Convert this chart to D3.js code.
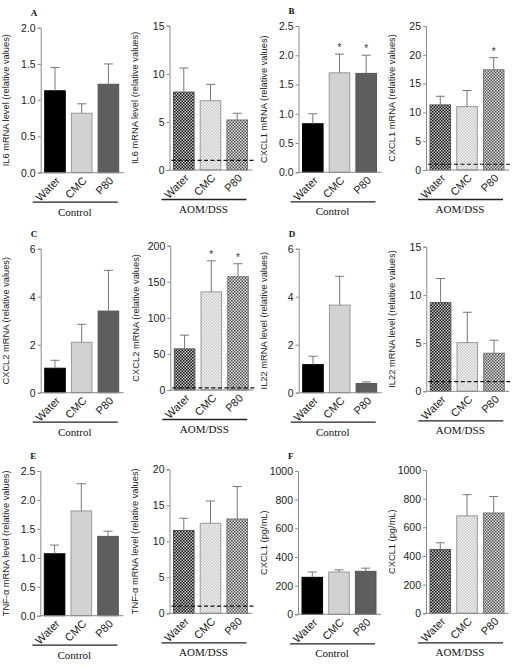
<!DOCTYPE html>
<html><head><meta charset="utf-8">
<script src="https://cdn.jsdelivr.net/npm/d3@7"></script>
<style>body{margin:0;background:#fff}svg{display:block}</style>
</head><body>
<svg id="c" width="517" height="670"></svg>
<script>
// ---- data ----
const groups = ["Water", "CMC", "P80"];

const il6Control = [1.13, 0.82, 1.22];
const il6ControlErr = [1.45, 0.95, 1.50];
const il6Aom = [8.1, 7.2, 5.2];
const il6AomErr = [10.6, 8.9, 5.9];

const cxcl1Control = [0.83, 1.70, 1.69];
const cxcl1ControlErr = [1.00, 2.02, 2.00];
const cxcl1ControlStar = [false, true, true];
const cxcl1Aom = [11.3, 11.0, 17.4];
const cxcl1AomErr = [12.8, 13.8, 19.5];
const cxcl1AomStar = [false, false, true];

const cxcl2Control = [1.02, 2.1, 3.4];
const cxcl2ControlErr = [1.35, 2.85, 5.1];
const cxcl2Aom = [57, 136, 157];
const cxcl2AomErr = [76, 179, 175];
const cxcl2AomStar = [false, true, true];

const il22Control = [1.17, 3.65, 0.38];
const il22ControlErr = [1.52, 4.85, 0.45];
const il22Aom = [9.2, 5.05, 3.95];
const il22AomErr = [11.7, 8.2, 5.3];

const tnfControl = [1.07, 1.81, 1.37];
const tnfControlErr = [1.22, 2.28, 1.46];
const tnfAom = [11.5, 12.5, 13.1];
const tnfAomErr = [13.2, 15.6, 17.6];

const cxcl1ProtControl = [258, 295, 300];
const cxcl1ProtControlErr = [295, 310, 322];
const cxcl1ProtAom = [445, 680, 700];
const cxcl1ProtAomErr = [492, 828, 815];

const ticksA = [0, 0.5, 1.0, 1.5, 2.0];
const ticksA2 = [0, 5, 10, 15];
const ticksB = [0, 0.5, 1.0, 1.5, 2.0, 2.5];
const ticksB2 = [0, 5, 10, 15, 20, 25];
const ticksC = [0, 2, 4, 6];
const ticksC2 = [0, 50, 100, 150, 200];
const ticksD = [0, 2, 4, 6];
const ticksD2 = [0, 5, 10, 15];
const ticksE = [0, 0.5, 1.0, 1.5, 2.0, 2.5];
const ticksE2 = [0, 5, 10, 15, 20];
const ticksF = [0, 200, 400, 600, 800, 1000];

const baselineAom = 1;      // dashed reference (control level)
const baselineCxcl2Aom = 3;

// ---- layout ----
const svg = d3.select("#c");
const defs = svg.append("defs");
function checker(id, a, b, s) {
  const p = defs.append("pattern").attr("id", id).attr("patternUnits", "userSpaceOnUse")
    .attr("width", 2 * s).attr("height", 2 * s);
  p.append("rect").attr("width", 2 * s).attr("height", 2 * s).attr("fill", b);
  p.append("rect").attr("width", s).attr("height", s).attr("fill", a);
  p.append("rect").attr("x", s).attr("y", s).attr("width", s).attr("height", s).attr("fill", a);
}
checker("pw", "#111", "#c8c8c8", 1.5);
checker("pc", "#c9c9c9", "#f2f2f2", 1.5);
checker("pp", "#555", "#dcdcdc", 1.5);

const ctrlFill = ["#000", "#d2d2d2", "#5e5e5e"];
const ctrlStroke = ["#000", "#999", "#555"];
const aomFill = ["url(#pw)", "url(#pc)", "url(#pp)"];
const aomStroke = ["#555", "#999", "#777"];

const panels = [
  {ax: 40.7, top: 27.7, bot: 172.7, max: 2, ticks: ticksA, fmt: ".1f", vals: il6Control, err: il6ControlErr, title: "IL6 mRNA level (relative values)", letter: "A", ctrl: true},
  {ax: 169.5, top: 25.7, bot: 170, max: 15, ticks: ticksA2, fmt: "d", vals: il6Aom, err: il6AomErr, title: "IL6 mRNA level (relative values)", dash: baselineAom},
  {ax: 298.5, top: 26, bot: 172.3, max: 2.5, ticks: ticksB, fmt: ".1f", vals: cxcl1Control, err: cxcl1ControlErr, star: cxcl1ControlStar, title: "CXCL1 mRNA (relative values)", letter: "B", ctrl: true},
  {ax: 426, top: 26, bot: 170, max: 25, ticks: ticksB2, fmt: "d", vals: cxcl1Aom, err: cxcl1AomErr, star: cxcl1AomStar, title: "CXCL1 mRNA (relative values)", dash: baselineAom},
  {ax: 40.7, top: 248.7, bot: 392.7, max: 6, ticks: ticksC, fmt: "d", vals: cxcl2Control, err: cxcl2ControlErr, title: "CXCL2 mRNA (relative values)", letter: "C", ctrl: true},
  {ax: 170.3, top: 245.7, bot: 390, max: 200, ticks: ticksC2, fmt: "d", vals: cxcl2Aom, err: cxcl2AomErr, star: cxcl2AomStar, title: "CXCL2 mRNA (relative values)", dash: baselineCxcl2Aom},
  {ax: 298.7, top: 248.7, bot: 392.7, max: 6, ticks: ticksD, fmt: "d", vals: il22Control, err: il22ControlErr, title: "IL22 mRNA level (relative values)", letter: "D", ctrl: true},
  {ax: 426.3, top: 246.7, bot: 391.3, max: 15, ticks: ticksD2, fmt: "d", vals: il22Aom, err: il22AomErr, title: "IL22 mRNA level (relative values)", dash: baselineAom},
  {ax: 40.3, top: 471, bot: 615.7, max: 2.5, ticks: ticksE, fmt: ".1f", vals: tnfControl, err: tnfControlErr, title: "TNF-α mRNA level (relative values)", letter: "E", ctrl: true},
  {ax: 169.5, top: 469.3, bot: 613.3, max: 20, ticks: ticksE2, fmt: "d", vals: tnfAom, err: tnfAomErr, title: "TNF-α mRNA level (relative values)", dash: baselineAom},
  {ax: 298, top: 471, bot: 614.3, max: 1000, ticks: ticksF, fmt: "d", vals: cxcl1ProtControl, err: cxcl1ProtControlErr, title: "CXCL1 (pg/mL)", letter: "F", ctrl: true},
  {ax: 426, top: 470, bot: 613.3, max: 1000, ticks: ticksF, fmt: "d", vals: cxcl1ProtAom, err: cxcl1ProtAomErr, title: "CXCL1 (pg/mL)"}
];

const axisColor = "#8a8a8a";
panels.forEach(p => {
  const g = svg.append("g");
  const x = d3.scaleBand().domain(groups).range([p.ax, p.ax + 82]).paddingInner(0.23).paddingOuter(0.15);
  const y = d3.scaleLinear().domain([0, p.max]).range([p.bot, p.top]);

  // bars
  groups.forEach((k, i) => {
    g.append("rect").attr("x", x(k)).attr("y", y(p.vals[i])).attr("width", x.bandwidth())
      .attr("height", y(0) - y(p.vals[i]))
      .attr("fill", p.ctrl ? ctrlFill[i] : aomFill[i])
      .attr("stroke", p.ctrl ? ctrlStroke[i] : aomStroke[i]).attr("stroke-width", 1);
    const cx = x(k) + x.bandwidth() / 2;
    g.append("line").attr("x1", cx).attr("x2", cx).attr("y1", y(p.vals[i])).attr("y2", y(p.err[i]))
      .attr("stroke", "#777").attr("stroke-width", 1);
    g.append("line").attr("x1", cx - 4.5).attr("x2", cx + 4.5).attr("y1", y(p.err[i])).attr("y2", y(p.err[i]))
      .attr("stroke", "#777").attr("stroke-width", 1);
    if (p.star && p.star[i]) {
      g.append("text").attr("x", cx).attr("y", y(p.err[i]) - 3).attr("text-anchor", "middle")
        .attr("font-family", "Liberation Sans, Arial, sans-serif").attr("font-size", 10).attr("fill", "#333").text("*");
    }
  });

  if (p.dash !== undefined) {
    g.append("line").attr("x1", p.ax + 2).attr("x2", p.ax + 85).attr("y1", y(p.dash)).attr("y2", y(p.dash))
      .attr("stroke", "#111").attr("stroke-width", 1.2).attr("stroke-dasharray", "4,2.5");
  }

  // y axis
  const ya = g.append("g").attr("transform", `translate(${p.ax},0)`)
    .call(d3.axisLeft(y).tickValues(p.ticks).tickFormat(d3.format(p.fmt)).tickSize(3).tickPadding(2));
  ya.select(".domain").attr("stroke", axisColor);
  ya.selectAll(".tick line").attr("stroke", axisColor);
  ya.selectAll("text").attr("font-family", "Liberation Sans, Arial, sans-serif").attr("font-size", 10.5).attr("fill", "#222");

  // x axis
  const xa = g.append("g").attr("transform", `translate(0,${p.bot})`)
    .call(d3.axisBottom(x).tickSize(0).tickPadding(0));
  xa.select(".domain").attr("d", `M${p.ax},0H${p.ax + 83}`).attr("stroke", axisColor);
  xa.selectAll(".tick text")
    .attr("font-family", "Liberation Sans, Arial, sans-serif").attr("font-size", 11).attr("fill", "#222")
    .attr("text-anchor", "end").attr("dy", "0.35em")
    .attr("transform", "translate(3,6) rotate(-45)");

  // y title
  const tLen = p.bot - p.top + 3;
  const t = g.append("text").attr("transform", `translate(${p.ax - 31.5},${(p.top + p.bot) / 2}) rotate(-90)`)
    .attr("text-anchor", "middle").attr("font-family", "Liberation Sans, Arial, sans-serif")
    .attr("font-size", 9.3).attr("fill", "#222").text(p.title);
  if (t.node().getComputedTextLength() > tLen) {
    t.attr("textLength", tLen).attr("lengthAdjust", "spacingAndGlyphs");
  }

  // group underline and label
  g.append("line").attr("x1", p.ax - 8).attr("x2", p.ax + 77).attr("y1", p.bot + 29.5).attr("y2", p.bot + 29.5)
    .attr("stroke", "#222").attr("stroke-width", 1.3);
  g.append("text").attr("x", p.ax + 34).attr("y", p.bot + 43).attr("text-anchor", "middle")
    .attr("font-family", "Liberation Serif, Times New Roman, serif").attr("font-size", 11).attr("fill", "#111")
    .text(p.ctrl ? "Control" : "AOM/DSS");

  if (p.letter) {
    g.append("text").attr("x", p.ax - 10).attr("y", p.top - 12).attr("font-family", "Liberation Serif, Times New Roman, serif")
      .attr("font-weight", "bold").attr("font-size", 9).attr("fill", "#111").text(p.letter);
  }
});
</script>
</body></html>
